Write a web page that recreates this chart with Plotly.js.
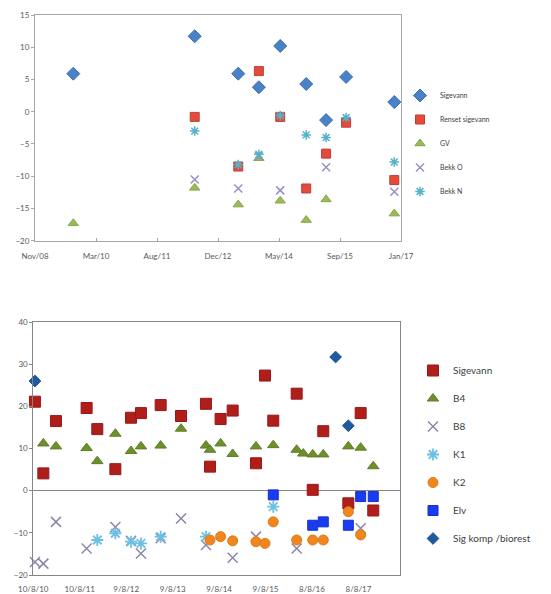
<!DOCTYPE html>
<html>
<head>
<meta charset="utf-8">
<script src="https://cdn.plot.ly/plotly-3.0.1.min.js"></script>
<style>html,body{margin:0;padding:0;background:#fff;}#chart{width:551px;height:594px;}</style>
</head>
<body>
<div id="chart"></div>
<script>
// ---------- Top chart data ----------
var topSigevannDates = ['2009-09-20','2012-06-11','2013-06-03','2013-11-19','2014-05-13','2014-12-12','2015-05-24','2015-11-04','2016-12-03'];
var topSigevannVals  = [5.9, 11.7, 5.9, 3.8, 10.2, 4.3, -1.3, 5.4, 1.5];

var topRensetDates = ['2012-06-11','2013-06-03','2013-11-19','2014-05-13','2014-12-12','2015-05-24','2015-11-04','2016-12-03'];
var topRensetVals  = [-0.8, -8.5, 6.3, -0.8, -11.9, -6.5, -1.7, -10.6];

var topGVDates = ['2009-09-20','2012-06-11','2013-06-03','2013-11-19','2014-05-13','2014-12-12','2015-05-24','2016-12-03'];
var topGVVals  = [-17.3, -11.8, -14.4, -7.2, -13.8, -16.8, -13.6, -15.8];

var topBekkODates = ['2012-06-11','2013-06-03','2013-11-19','2014-05-13','2015-05-24','2016-12-03'];
var topBekkOVals  = [-10.5, -11.9, -6.9, -12.2, -8.6, -12.4];

var topBekkNDates = ['2012-06-11','2013-06-03','2013-11-19','2014-05-13','2014-12-12','2015-05-24','2015-11-04','2016-12-03'];
var topBekkNVals  = [-3.0, -8.2, -6.6, -0.6, -3.6, -4.0, -0.9, -7.8];

var topNames = ['Sigevann','Renset sigevann','GV','Bekk O','Bekk N'];

// ---------- Bottom chart data ----------
var botSigevannDates = ['2010-08-23','2010-10-28','2011-02-04','2011-10-03','2011-12-26','2012-05-16','2012-09-16','2012-12-03','2013-05-07','2013-10-14','2014-04-28','2014-05-30','2014-08-21','2014-11-24','2015-05-26','2015-08-05','2015-10-09','2016-04-10','2016-08-14','2016-11-05','2017-05-21','2017-08-26','2017-12-03'];
var botSigevannVals  = [21.1, 4.1, 16.5, 19.6, 14.6, 5.1, 17.3, 18.4, 20.3, 17.7, 20.6, 5.7, 17.0, 19.0, 6.5, 27.3, 16.6, 23.0, 0.2, 14.1, -3.0, 18.4, -4.7];

var botB4Dates = ['2010-10-28','2011-02-04','2011-10-03','2011-12-26','2012-05-16','2012-09-16','2012-12-03','2013-05-07','2013-10-14','2014-04-28','2014-05-30','2014-08-21','2014-11-24','2015-05-26','2015-10-09','2016-04-10','2016-06-01','2016-08-14','2016-11-05','2017-05-21','2017-08-26','2017-12-03'];
var botB4Vals  = [11.2, 10.5, 10.1, 7.0, 13.5, 9.4, 10.5, 10.7, 14.7, 10.7, 9.7, 11.2, 8.7, 10.5, 10.8, 9.7, 8.8, 8.6, 8.6, 10.5, 10.2, 5.8];

var botB8Dates = ['2010-08-23','2010-10-28','2011-02-04','2011-10-03','2012-05-16','2012-09-16','2012-12-03','2013-05-07','2013-10-14','2014-04-28','2014-11-24','2015-05-26','2016-04-10','2017-08-26'];
var botB8Vals  = [-16.9, -17.3, -7.4, -13.7, -8.6, -11.9, -14.9, -11.3, -6.6, -12.9, -15.9, -10.9, -13.7, -8.9];

var botK1Dates = ['2011-12-26','2012-05-16','2012-09-16','2012-12-03','2013-05-07','2014-04-28','2015-10-09'];
var botK1Vals  = [-11.7, -10.1, -12.1, -12.5, -10.9, -10.9, -3.8];

var botK2Dates = ['2014-05-30','2014-08-21','2014-11-24','2015-05-26','2015-08-05','2015-10-09','2016-04-10','2016-08-14','2016-11-05','2017-05-21','2017-08-26'];
var botK2Vals  = [-11.7, -10.9, -11.9, -12.1, -12.5, -7.4, -11.7, -11.7, -11.7, -5.0, -10.5];

var botElvDates = ['2015-10-09','2016-08-14','2016-11-05','2017-05-21','2017-08-26','2017-12-03'];
var botElvVals  = [-1.0, -8.2, -7.4, -8.2, -1.4, -1.4];

var botSigKompDates = ['2010-08-23','2017-02-10','2017-05-21'];
var botSigKompVals  = [26.0, 31.7, 15.4];

var botNames = ['Sigevann','B4','B8','K1','K2','Elv','Sig komp /biorest'];

// ---------- Traces ----------
function pt(x, y, name, xa, ya, leg, marker, grp) {
  return {type:'scatter', mode:'markers', x:x, y:y, name:name, xaxis:xa, yaxis:ya,
          legend:leg, legendgroup:grp, marker:marker, cliponaxis:false, hoverinfo:'x+y+name'};
}

var data = [
  pt(topSigevannDates, topSigevannVals, topNames[0], 'x', 'y', 'legend',
     {symbol:'diamond', size:10, color:'#4a82c8', line:{color:'#3a6db0', width:1}}, 't1'),
  pt(topRensetDates, topRensetVals, topNames[1], 'x', 'y', 'legend',
     {symbol:'square', size:9, color:'#e64a3a', line:{color:'#b8413a', width:1}}, 't2'),
  pt(topGVDates, topGVVals, topNames[2], 'x', 'y', 'legend',
     {symbol:'triangle-up', size:9, color:'#9bbb59', line:{color:'#86a64a', width:1}}, 't3'),
  pt(topBekkODates, topBekkOVals, topNames[3], 'x', 'y', 'legend',
     {symbol:'x-thin-open', size:8, color:'#9a8fc4', line:{color:'#9a8fc4', width:1.5}}, 't4'),
  pt(topBekkNDates, topBekkNVals, topNames[4], 'x', 'y', 'legend',
     {symbol:'asterisk-open', size:8, color:'#56b2c8', line:{color:'#56b2c8', width:1.5}}, 't5'),

  pt(botSigevannDates, botSigevannVals, botNames[0], 'x2', 'y2', 'legend2',
     {symbol:'square', size:11, color:'#b01e1a', line:{color:'#98181a', width:1}}, 'b1'),
  pt(botB4Dates, botB4Vals, botNames[1], 'x2', 'y2', 'legend2',
     {symbol:'triangle-up', size:10, color:'#6e902c', line:{color:'#5f7e26', width:1}}, 'b2'),
  pt(botB8Dates, botB8Vals, botNames[2], 'x2', 'y2', 'legend2',
     {symbol:'x-thin-open', size:10, color:'#8a87a8', line:{color:'#8a87a8', width:1.5}}, 'b3'),
  pt(botK1Dates, botK1Vals, botNames[3], 'x2', 'y2', 'legend2',
     {symbol:'asterisk-open', size:10, color:'#6cc0e4', line:{color:'#6cc0e4', width:1.8}}, 'b4'),
  pt(botK2Dates, botK2Vals, botNames[4], 'x2', 'y2', 'legend2',
     {symbol:'circle', size:10, color:'#f0861e', line:{color:'#e07a18', width:1}}, 'b5'),
  pt(botElvDates, botElvVals, botNames[5], 'x2', 'y2', 'legend2',
     {symbol:'square', size:10, color:'#1a3cf0', line:{color:'#1530d0', width:1}}, 'b6'),
  pt(botSigKompDates, botSigKompVals, botNames[6], 'x2', 'y2', 'legend2',
     {symbol:'diamond', size:9, color:'#1f5aa0', line:{color:'#184a88', width:1}}, 'b7')
];

var DAY = 86400000;
var tickFont = {family:'Lato, "Open Sans", sans-serif', size:8, color:'#595959'};

var layout = {
  width:551, height:594,
  margin:{l:0, r:0, t:0, b:0},
  paper_bgcolor:'#ffffff', plot_bgcolor:'#ffffff',
  showlegend:true,
  font:{family:'Lato, "Open Sans", sans-serif', color:'#404040'},
  xaxis:{
    domain:[35/551, 401/551], anchor:'y', type:'date',
    range:['2008-11-10','2017-01-27'],
    tick0:'2008-11-10', dtick:500*DAY, tickformat:'%b/%y',
    showgrid:false, zeroline:false,
    showline:true, linecolor:'#a6a6a6', linewidth:1, mirror:true,
    ticks:'inside', ticklen:3, tickcolor:'#a6a6a6',
    ticklabelstandoff:8,
    tickfont:tickFont
  },
  yaxis:{
    domain:[1-240.7/594, 1-15/594], anchor:'x',
    range:[-20, 15], dtick:5,
    showgrid:false, zeroline:false,
    showline:true, linecolor:'#a6a6a6', linewidth:1, mirror:true,
    ticks:'outside', ticklen:3, tickcolor:'#a6a6a6',
    tickfont:tickFont
  },
  xaxis2:{
    domain:[33.3/551, 400/551], anchor:'y2', type:'date',
    range:['2010-08-10','2018-07-01'],
    tick0:'2010-08-10', dtick:365*DAY, tickformat:'%-d/%-m/%y',
    showgrid:false, zeroline:false,
    showline:true, linecolor:'#868686', linewidth:1, mirror:true,
    ticks:'', ticklabelstandoff:6, tickfont:tickFont
  },
  yaxis2:{
    domain:[1-575/594, 1-322/594], anchor:'x2',
    range:[-20, 40], dtick:10,
    showgrid:false, zeroline:true, zerolinecolor:'#868686', zerolinewidth:1,
    showline:true, linecolor:'#868686', linewidth:1, mirror:true,
    ticks:'outside', ticklen:3, tickcolor:'#868686',
    tickfont:tickFont
  },
  legend:{
    x:400/551, xanchor:'left', y:1-81/594, yanchor:'top',
    orientation:'v', tracegroupgap:5, itemclick:false,
    bgcolor:'rgba(0,0,0,0)',
    font:{family:'Lato, "Open Sans", sans-serif', size:7, color:'#404040'}
  },
  legend2:{
    x:413/551, xanchor:'left', y:1-356/594, yanchor:'top',
    orientation:'v', tracegroupgap:9, itemclick:false,
    bgcolor:'rgba(0,0,0,0)',
    font:{family:'Lato, "Open Sans", sans-serif', size:10, color:'#404040'}
  }
};

Plotly.newPlot('chart', data, layout, {displayModeBar:false, staticPlot:true});
</script>
</body>
</html>
